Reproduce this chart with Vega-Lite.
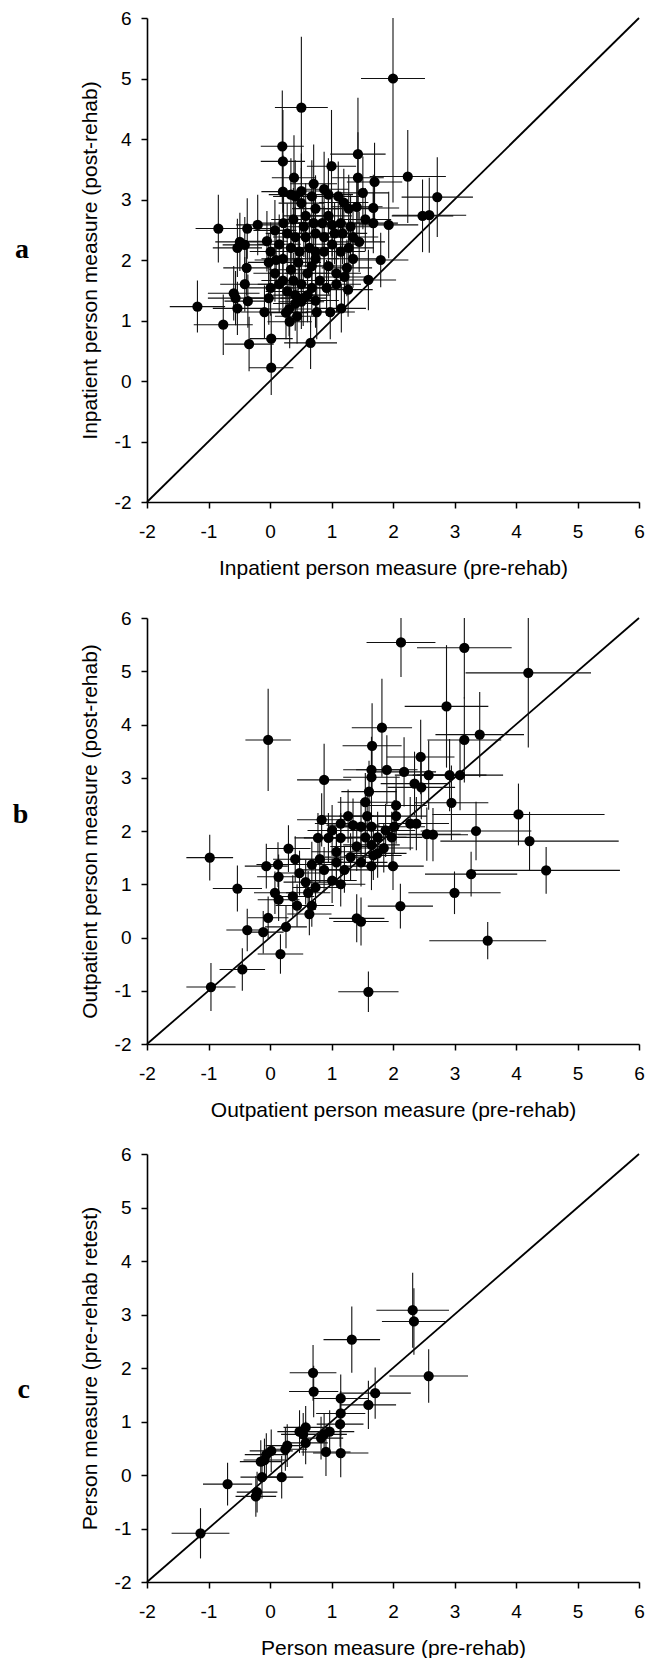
{
  "$schema": "https://vega.github.io/schema/vega-lite/v6.json",
  "padding": {"left": 12, "top": 9, "right": 0, "bottom": 0},
  "background": "white",
  "config": {
    "view": {"stroke": null},
    "axis": {"grid": false, "domainColor": "black", "domainWidth": 1.6, "tickColor": "black", "tickWidth": 1.5, "tickSize": 6, "labelFont": "Liberation Sans", "labelFontSize": 19, "labelColor": "black", "titleFont": "Liberation Sans", "titleFontSize": 21, "titleFontWeight": "normal", "titleColor": "black", "labelFlush": false, "labelOverlap": false, "labelExpr": "'' + datum.value"},
    "axisX": {"labelPadding": 14, "titlePadding": 16},
    "axisY": {"labelPadding": 10, "titlePadding": 14}
  },
  "datasets": {
    "diag": [{"x": -2, "y": -2}, {"x": 6, "y": 6}],
    "a": [
      {"x":2.0,"y":5.0,"ex":0.52,"ey":2.05},{"x":0.51,"y":4.52,"ex":0.43,"ey":1.17},{"x":0.2,"y":3.88,"ex":0.35,"ey":0.92},{"x":0.21,"y":3.63,"ex":0.36,"ey":0.85},
      {"x":1.0,"y":3.55,"ex":0.4,"ey":0.93},{"x":1.43,"y":3.75,"ex":0.45,"ey":0.93},{"x":1.43,"y":3.36,"ex":0.42,"ey":0.75},{"x":2.24,"y":3.38,"ex":0.62,"ey":0.77},
      {"x":0.39,"y":3.36,"ex":0.36,"ey":0.7},{"x":2.72,"y":3.04,"ex":0.58,"ey":0.66},{"x":2.48,"y":2.73,"ex":0.5,"ey":0.6},{"x":2.59,"y":2.74,"ex":0.6,"ey":0.62},
      {"x":1.93,"y":2.58,"ex":0.48,"ey":0.55},{"x":1.7,"y":3.29,"ex":0.45,"ey":0.65},{"x":1.51,"y":3.11,"ex":0.42,"ey":0.6},{"x":1.68,"y":2.86,"ex":0.42,"ey":0.55},
      {"x":1.68,"y":2.61,"ex":0.4,"ey":0.5},{"x":1.8,"y":2.0,"ex":0.45,"ey":0.45},{"x":1.6,"y":1.67,"ex":0.45,"ey":0.5},{"x":1.27,"y":1.51,"ex":0.4,"ey":0.45},
      {"x":1.16,"y":1.2,"ex":0.4,"ey":0.4},{"x":0.98,"y":1.14,"ex":0.4,"ey":0.45},{"x":0.76,"y":1.14,"ex":0.38,"ey":0.45},{"x":0.66,"y":0.63,"ex":0.43,"ey":0.43},
      {"x":0.02,"y":0.7,"ex":0.35,"ey":0.42},{"x":0.02,"y":0.22,"ex":0.36,"ey":0.45},{"x":-0.34,"y":0.61,"ex":0.4,"ey":0.45},{"x":-0.76,"y":0.93,"ex":0.48,"ey":0.5},
      {"x":-1.18,"y":1.23,"ex":0.45,"ey":0.43},{"x":-0.84,"y":2.52,"ex":0.37,"ey":0.56},{"x":-0.37,"y":2.52,"ex":0.38,"ey":0.5},{"x":-0.2,"y":2.58,"ex":0.35,"ey":0.5},
      {"x":-0.49,"y":2.3,"ex":0.4,"ey":0.48},{"x":-0.41,"y":2.25,"ex":0.36,"ey":0.46},{"x":-0.38,"y":1.87,"ex":0.38,"ey":0.46},{"x":-0.41,"y":1.6,"ex":0.4,"ey":0.45},
      {"x":-0.59,"y":1.45,"ex":0.42,"ey":0.45},{"x":-0.56,"y":1.37,"ex":0.45,"ey":0.45},{"x":-0.53,"y":1.2,"ex":0.4,"ey":0.44},{"x":-0.36,"y":1.32,"ex":0.38,"ey":0.44},
      {"x":-0.09,"y":1.14,"ex":0.38,"ey":0.44},{"x":0.01,"y":1.54,"ex":0.36,"ey":0.46},{"x":-0.02,"y":1.37,"ex":0.36,"ey":0.44},{"x":0.32,"y":0.98,"ex":0.36,"ey":0.44},
      {"x":0.26,"y":1.13,"ex":0.36,"ey":0.44},{"x":0.21,"y":3.13,"ex":0.35,"ey":0.6},{"x":0.41,"y":3.05,"ex":0.36,"ey":0.6},{"x":0.51,"y":3.14,"ex":0.37,"ey":0.62},
      {"x":0.68,"y":3.05,"ex":0.38,"ey":0.6},{"x":0.88,"y":3.17,"ex":0.4,"ey":0.62},{"x":0.95,"y":3.08,"ex":0.4,"ey":0.6},{"x":1.11,"y":3.05,"ex":0.4,"ey":0.58},
      {"x":1.28,"y":2.85,"ex":0.4,"ey":0.56},{"x":1.41,"y":2.88,"ex":0.42,"ey":0.55},{"x":1.55,"y":2.67,"ex":0.42,"ey":0.52},{"x":1.31,"y":2.55,"ex":0.4,"ey":0.52},
      {"x":1.15,"y":2.61,"ex":0.4,"ey":0.52},{"x":0.95,"y":2.73,"ex":0.38,"ey":0.54},{"x":0.74,"y":2.85,"ex":0.38,"ey":0.55},{"x":0.58,"y":2.73,"ex":0.37,"ey":0.54},
      {"x":0.38,"y":2.67,"ex":0.36,"ey":0.52},{"x":0.22,"y":2.61,"ex":0.35,"ey":0.52},{"x":0.08,"y":2.49,"ex":0.35,"ey":0.5},{"x":-0.05,"y":2.31,"ex":0.34,"ey":0.5},
      {"x":0.01,"y":2.14,"ex":0.34,"ey":0.48},{"x":-0.02,"y":1.96,"ex":0.34,"ey":0.48},{"x":0.08,"y":1.78,"ex":0.35,"ey":0.47},{"x":0.15,"y":1.6,"ex":0.35,"ey":0.46},
      {"x":0.28,"y":1.48,"ex":0.35,"ey":0.46},{"x":0.41,"y":1.42,"ex":0.36,"ey":0.46},{"x":0.54,"y":1.37,"ex":0.37,"ey":0.46},{"x":0.51,"y":1.6,"ex":0.37,"ey":0.46},
      {"x":0.61,"y":1.78,"ex":0.37,"ey":0.47},{"x":0.34,"y":1.84,"ex":0.36,"ey":0.47},{"x":0.21,"y":2.02,"ex":0.35,"ey":0.48},{"x":0.34,"y":2.2,"ex":0.36,"ey":0.48},
      {"x":0.48,"y":2.14,"ex":0.37,"ey":0.48},{"x":0.64,"y":2.2,"ex":0.37,"ey":0.49},{"x":0.74,"y":2.02,"ex":0.38,"ey":0.48},{"x":0.88,"y":2.14,"ex":0.39,"ey":0.49},
      {"x":1.01,"y":2.26,"ex":0.4,"ey":0.5},{"x":1.15,"y":2.14,"ex":0.4,"ey":0.49},{"x":1.28,"y":2.2,"ex":0.41,"ey":0.5},{"x":1.35,"y":2.02,"ex":0.41,"ey":0.48},
      {"x":1.25,"y":1.87,"ex":0.41,"ey":0.47},{"x":1.08,"y":1.78,"ex":0.4,"ey":0.47},{"x":0.95,"y":1.9,"ex":0.39,"ey":0.47},{"x":0.81,"y":1.66,"ex":0.38,"ey":0.46},
      {"x":0.68,"y":1.54,"ex":0.38,"ey":0.46},{"x":0.92,"y":1.54,"ex":0.39,"ey":0.46},{"x":1.08,"y":1.6,"ex":0.4,"ey":0.46},{"x":1.21,"y":1.72,"ex":0.41,"ey":0.47},
      {"x":1.35,"y":2.38,"ex":0.41,"ey":0.51},{"x":1.18,"y":2.44,"ex":0.4,"ey":0.51},{"x":1.05,"y":2.44,"ex":0.4,"ey":0.51},{"x":0.88,"y":2.38,"ex":0.39,"ey":0.51},
      {"x":0.74,"y":2.44,"ex":0.38,"ey":0.51},{"x":0.58,"y":2.38,"ex":0.37,"ey":0.5},{"x":0.41,"y":2.38,"ex":0.36,"ey":0.5},{"x":0.28,"y":2.44,"ex":0.35,"ey":0.5},
      {"x":0.15,"y":2.26,"ex":0.35,"ey":0.49},{"x":0.71,"y":2.61,"ex":0.38,"ey":0.52},{"x":0.85,"y":2.61,"ex":0.39,"ey":0.52},{"x":1.01,"y":2.58,"ex":0.4,"ey":0.52},
      {"x":0.68,"y":1.9,"ex":0.38,"ey":0.47},{"x":0.74,"y":2.14,"ex":0.38,"ey":0.48},{"x":0.46,"y":1.96,"ex":0.37,"ey":0.47},{"x":0.21,"y":1.66,"ex":0.35,"ey":0.46},
      {"x":0.38,"y":1.66,"ex":0.36,"ey":0.46},{"x":0.51,"y":1.31,"ex":0.37,"ey":0.45},{"x":0.61,"y":1.42,"ex":0.37,"ey":0.45},{"x":0.74,"y":1.33,"ex":0.38,"ey":0.45},
      {"x":0.41,"y":1.28,"ex":0.36,"ey":0.45},{"x":0.31,"y":1.19,"ex":0.36,"ey":0.45},{"x":0.44,"y":1.07,"ex":0.36,"ey":0.45},{"x":0.71,"y":3.26,"ex":0.38,"ey":0.65},
      {"x":0.34,"y":3.08,"ex":0.36,"ey":0.6},{"x":0.51,"y":2.94,"ex":0.37,"ey":0.58},{"x":-0.53,"y":2.2,"ex":0.4,"ey":0.48},{"x":0.55,"y":2.55,"ex":0.37,"ey":0.5},
      {"x":1.45,"y":2.3,"ex":0.42,"ey":0.5},{"x":1.2,"y":2.95,"ex":0.4,"ey":0.56},{"x":0.1,"y":2.0,"ex":0.35,"ey":0.48}
    ],
    "b": [
      {"x":2.13,"y":5.54,"ex":0.56,"ey":0.65},{"x":3.16,"y":5.44,"ex":0.77,"ey":0.95},{"x":4.2,"y":4.97,"ex":1.02,"ey":1.4},{"x":2.87,"y":4.34,"ex":0.68,"ey":1.15},
      {"x":1.82,"y":3.94,"ex":0.49,"ey":0.92},{"x":-0.03,"y":3.71,"ex":0.37,"ey":0.96},{"x":3.16,"y":3.71,"ex":0.6,"ey":0.8},{"x":3.41,"y":3.81,"ex":0.72,"ey":0.8},
      {"x":1.66,"y":3.6,"ex":0.48,"ey":0.8},{"x":2.45,"y":3.39,"ex":0.55,"ey":0.7},{"x":0.88,"y":2.96,"ex":0.44,"ey":0.68},{"x":1.9,"y":3.15,"ex":0.5,"ey":0.65},
      {"x":2.18,"y":3.11,"ex":0.52,"ey":0.65},{"x":2.58,"y":3.05,"ex":0.55,"ey":0.65},{"x":2.92,"y":3.05,"ex":0.6,"ey":0.68},{"x":3.09,"y":3.05,"ex":0.7,"ey":0.66},
      {"x":2.35,"y":2.89,"ex":0.55,"ey":0.6},{"x":2.46,"y":2.82,"ex":0.55,"ey":0.6},{"x":2.95,"y":2.53,"ex":0.6,"ey":0.7},{"x":4.04,"y":2.31,"ex":1.4,"ey":0.58},
      {"x":3.35,"y":2.0,"ex":0.9,"ey":0.55},{"x":4.22,"y":1.81,"ex":1.45,"ey":0.55},{"x":4.49,"y":1.26,"ex":1.2,"ey":0.44},{"x":3.27,"y":1.19,"ex":0.75,"ey":0.42},
      {"x":3.0,"y":0.84,"ex":0.75,"ey":0.4},{"x":3.54,"y":-0.06,"ex":0.95,"ey":0.35},{"x":2.12,"y":0.59,"ex":0.53,"ey":0.42},{"x":1.6,"y":-1.02,"ex":0.49,"ey":0.38},
      {"x":1.48,"y":0.3,"ex":0.45,"ey":0.45},{"x":1.41,"y":0.36,"ex":0.45,"ey":0.45},{"x":-0.98,"y":1.5,"ex":0.38,"ey":0.43},{"x":-0.53,"y":0.92,"ex":0.4,"ey":0.43},
      {"x":-0.45,"y":-0.6,"ex":0.37,"ey":0.4},{"x":-0.96,"y":-0.93,"ex":0.4,"ey":0.45},{"x":-0.37,"y":0.14,"ex":0.34,"ey":0.4},{"x":-0.11,"y":0.1,"ex":0.33,"ey":0.4},
      {"x":-0.03,"y":0.37,"ex":0.33,"ey":0.4},{"x":0.17,"y":-0.31,"ex":0.37,"ey":0.37},{"x":0.26,"y":0.2,"ex":0.34,"ey":0.4},{"x":-0.06,"y":1.34,"ex":0.35,"ey":0.42},
      {"x":0.13,"y":1.37,"ex":0.35,"ey":0.42},{"x":0.14,"y":1.14,"ex":0.35,"ey":0.42},{"x":0.3,"y":1.67,"ex":0.36,"ey":0.44},{"x":0.08,"y":0.84,"ex":0.34,"ey":0.4},
      {"x":0.14,"y":0.71,"ex":0.34,"ey":0.4},{"x":0.37,"y":0.77,"ex":0.35,"ey":0.4},{"x":0.44,"y":0.6,"ex":0.35,"ey":0.4},{"x":0.64,"y":0.44,"ex":0.36,"ey":0.4},
      {"x":0.68,"y":0.6,"ex":0.36,"ey":0.4},{"x":0.58,"y":1.04,"ex":0.36,"ey":0.42},{"x":0.62,"y":0.84,"ex":0.36,"ey":0.41},{"x":0.48,"y":1.21,"ex":0.36,"ey":0.42},
      {"x":0.41,"y":1.47,"ex":0.36,"ey":0.43},{"x":0.74,"y":0.94,"ex":0.37,"ey":0.42},{"x":0.88,"y":1.27,"ex":0.38,"ey":0.43},{"x":0.81,"y":1.47,"ex":0.38,"ey":0.44},
      {"x":0.68,"y":1.37,"ex":0.37,"ey":0.43},{"x":1.08,"y":1.41,"ex":0.4,"ey":0.44},{"x":1.15,"y":1.0,"ex":0.4,"ey":0.42},{"x":1.01,"y":1.07,"ex":0.4,"ey":0.42},
      {"x":1.21,"y":1.27,"ex":0.4,"ey":0.43},{"x":1.08,"y":1.61,"ex":0.4,"ey":0.45},{"x":1.31,"y":1.51,"ex":0.42,"ey":0.45},{"x":1.48,"y":1.41,"ex":0.43,"ey":0.45},
      {"x":1.65,"y":1.34,"ex":0.45,"ey":0.45},{"x":2.0,"y":1.34,"ex":0.5,"ey":0.45},{"x":0.84,"y":2.21,"ex":0.4,"ey":0.5},{"x":1.01,"y":2.01,"ex":0.4,"ey":0.48},
      {"x":1.15,"y":2.14,"ex":0.42,"ey":0.5},{"x":1.27,"y":2.28,"ex":0.42,"ey":0.5},{"x":1.15,"y":1.87,"ex":0.42,"ey":0.47},{"x":0.95,"y":1.87,"ex":0.4,"ey":0.47},
      {"x":0.78,"y":1.87,"ex":0.38,"ey":0.47},{"x":1.55,"y":2.54,"ex":0.45,"ey":0.55},{"x":1.61,"y":2.74,"ex":0.45,"ey":0.58},{"x":1.65,"y":3.15,"ex":0.46,"ey":0.62},
      {"x":1.65,"y":3.01,"ex":0.46,"ey":0.6},{"x":1.58,"y":2.28,"ex":0.45,"ey":0.52},{"x":1.65,"y":2.08,"ex":0.46,"ey":0.5},{"x":1.55,"y":1.88,"ex":0.45,"ey":0.48},
      {"x":1.65,"y":1.74,"ex":0.46,"ey":0.47},{"x":1.75,"y":1.88,"ex":0.47,"ey":0.48},{"x":1.88,"y":2.01,"ex":0.48,"ey":0.5},{"x":2.02,"y":2.08,"ex":0.5,"ey":0.5},
      {"x":2.05,"y":2.48,"ex":0.5,"ey":0.55},{"x":2.05,"y":2.28,"ex":0.5,"ey":0.52},{"x":2.28,"y":2.14,"ex":0.52,"ey":0.5},{"x":2.38,"y":2.14,"ex":0.53,"ey":0.5},
      {"x":2.55,"y":1.94,"ex":0.55,"ey":0.5},{"x":2.65,"y":1.93,"ex":0.57,"ey":0.5},{"x":1.98,"y":1.88,"ex":0.5,"ey":0.48},{"x":1.85,"y":1.68,"ex":0.48,"ey":0.46},
      {"x":1.75,"y":1.58,"ex":0.47,"ey":0.46},{"x":1.68,"y":1.54,"ex":0.46,"ey":0.46},{"x":1.41,"y":1.71,"ex":0.43,"ey":0.46},{"x":1.48,"y":2.08,"ex":0.44,"ey":0.5},
      {"x":1.35,"y":2.11,"ex":0.43,"ey":0.5}
    ],
    "c": [
      {"x":2.32,"y":3.08,"ex":0.59,"ey":0.7},{"x":2.34,"y":2.87,"ex":0.52,"ey":0.62},{"x":1.33,"y":2.53,"ex":0.46,"ey":0.62},{"x":2.58,"y":1.85,"ex":0.64,"ey":0.5},
      {"x":0.7,"y":1.91,"ex":0.38,"ey":0.52},{"x":0.71,"y":1.56,"ex":0.4,"ey":0.48},{"x":1.15,"y":1.43,"ex":0.45,"ey":0.45},{"x":1.71,"y":1.53,"ex":0.58,"ey":0.48},
      {"x":1.6,"y":1.31,"ex":0.45,"ey":0.45},{"x":1.15,"y":1.15,"ex":0.4,"ey":0.42},{"x":1.14,"y":0.95,"ex":0.38,"ey":0.42},{"x":0.97,"y":0.81,"ex":0.4,"ey":0.4},
      {"x":0.88,"y":0.76,"ex":0.37,"ey":0.4},{"x":0.83,"y":0.69,"ex":0.36,"ey":0.4},{"x":0.58,"y":0.89,"ex":0.36,"ey":0.4},{"x":0.54,"y":0.76,"ex":0.36,"ey":0.4},
      {"x":0.48,"y":0.81,"ex":0.36,"ey":0.4},{"x":0.58,"y":0.6,"ex":0.36,"ey":0.4},{"x":0.91,"y":0.43,"ex":0.4,"ey":0.45},{"x":1.15,"y":0.41,"ex":0.45,"ey":0.45},
      {"x":0.28,"y":0.55,"ex":0.35,"ey":0.4},{"x":0.25,"y":0.48,"ex":0.35,"ey":0.4},{"x":0.02,"y":0.45,"ex":0.35,"ey":0.4},{"x":-0.06,"y":0.38,"ex":0.35,"ey":0.4},
      {"x":-0.09,"y":0.28,"ex":0.34,"ey":0.4},{"x":-0.15,"y":0.25,"ex":0.34,"ey":0.4},{"x":-0.13,"y":-0.04,"ex":0.35,"ey":0.4},{"x":0.19,"y":-0.04,"ex":0.35,"ey":0.4},
      {"x":-0.23,"y":-0.4,"ex":0.33,"ey":0.38},{"x":-0.21,"y":-0.32,"ex":0.33,"ey":0.38},{"x":-0.69,"y":-0.17,"ex":0.4,"ey":0.4},{"x":-1.13,"y":-1.09,"ex":0.47,"ey":0.47}
    ]
  },
  "spacing": 25,
  "vconcat": [
    {
      "spacing": 31,
      "vconcat": [
        {
          "width": 492, "height": 484,
          "title": {"text": "a", "orient": "left", "angle": 0, "align": "center", "baseline": "middle", "font": "Liberation Serif", "fontSize": 28, "fontWeight": "bold", "color": "black", "offset": 43, "dy": -10},
          "encoding": {
            "x": {"field": "x", "type": "quantitative", "title": "Inpatient person measure (pre-rehab)", "scale": {"domain": [-2, 6], "nice": false, "zero": false}, "axis": {"values": [-2, -1, 0, 1, 2, 3, 4, 5, 6]}},
            "y": {"field": "y", "type": "quantitative", "title": "Inpatient person measure (post-rehab)", "scale": {"domain": [-2, 6], "nice": false, "zero": false}, "axis": {"values": [-2, -1, 0, 1, 2, 3, 4, 5, 6]}}
          },
          "layer": [
            {"data": {"name": "diag"}, "mark": {"type": "line", "color": "black", "strokeWidth": 1.8}},
            {"data": {"name": "a"}, "mark": {"type": "errorbar", "color": "#111111", "thickness": 1.1, "clip": true}, "encoding": {"xError": {"field": "ex"}}},
            {"data": {"name": "a"}, "mark": {"type": "errorbar", "color": "#111111", "thickness": 1.1, "clip": true}, "encoding": {"yError": {"field": "ey"}}},
            {"data": {"name": "a"}, "mark": {"type": "circle", "size": 105, "color": "black", "opacity": 1}}
          ]
        },
        {
          "width": 492, "height": 426,
          "title": {"text": "b", "orient": "left", "angle": 0, "align": "center", "baseline": "middle", "font": "Liberation Serif", "fontSize": 28, "fontWeight": "bold", "color": "black", "offset": 43, "dy": -16},
          "encoding": {
            "x": {"field": "x", "type": "quantitative", "title": "Outpatient person measure (pre-rehab)", "scale": {"domain": [-2, 6], "nice": false, "zero": false}, "axis": {"values": [-2, -1, 0, 1, 2, 3, 4, 5, 6]}},
            "y": {"field": "y", "type": "quantitative", "title": "Outpatient person measure (post-rehab)", "scale": {"domain": [-2, 6], "nice": false, "zero": false}, "axis": {"values": [-2, -1, 0, 1, 2, 3, 4, 5, 6]}}
          },
          "layer": [
            {"data": {"name": "diag"}, "mark": {"type": "line", "color": "black", "strokeWidth": 1.8}},
            {"data": {"name": "b"}, "mark": {"type": "errorbar", "color": "#111111", "thickness": 1.1, "clip": true}, "encoding": {"xError": {"field": "ex"}}},
            {"data": {"name": "b"}, "mark": {"type": "errorbar", "color": "#111111", "thickness": 1.1, "clip": true}, "encoding": {"yError": {"field": "ey"}}},
            {"data": {"name": "b"}, "mark": {"type": "circle", "size": 105, "color": "black", "opacity": 1}}
          ]
        }
      ]
    },
    {
      "width": 492, "height": 428,
      "title": {"text": "c", "orient": "left", "angle": 0, "align": "center", "baseline": "middle", "font": "Liberation Serif", "fontSize": 28, "fontWeight": "bold", "color": "black", "offset": 43, "dy": 22},
      "encoding": {
        "x": {"field": "x", "type": "quantitative", "title": "Person measure (pre-rehab)", "scale": {"domain": [-2, 6], "nice": false, "zero": false}, "axis": {"values": [-2, -1, 0, 1, 2, 3, 4, 5, 6]}},
        "y": {"field": "y", "type": "quantitative", "title": "Person measure (pre-rehab retest)", "scale": {"domain": [-2, 6], "nice": false, "zero": false}, "axis": {"values": [-2, -1, 0, 1, 2, 3, 4, 5, 6]}}
      },
      "layer": [
        {"data": {"name": "diag"}, "mark": {"type": "line", "color": "black", "strokeWidth": 1.8}},
        {"data": {"name": "c"}, "mark": {"type": "errorbar", "color": "#111111", "thickness": 1.1, "clip": true}, "encoding": {"xError": {"field": "ex"}}},
        {"data": {"name": "c"}, "mark": {"type": "errorbar", "color": "#111111", "thickness": 1.1, "clip": true}, "encoding": {"yError": {"field": "ey"}}},
        {"data": {"name": "c"}, "mark": {"type": "circle", "size": 105, "color": "black", "opacity": 1}}
      ]
    }
  ]
}
